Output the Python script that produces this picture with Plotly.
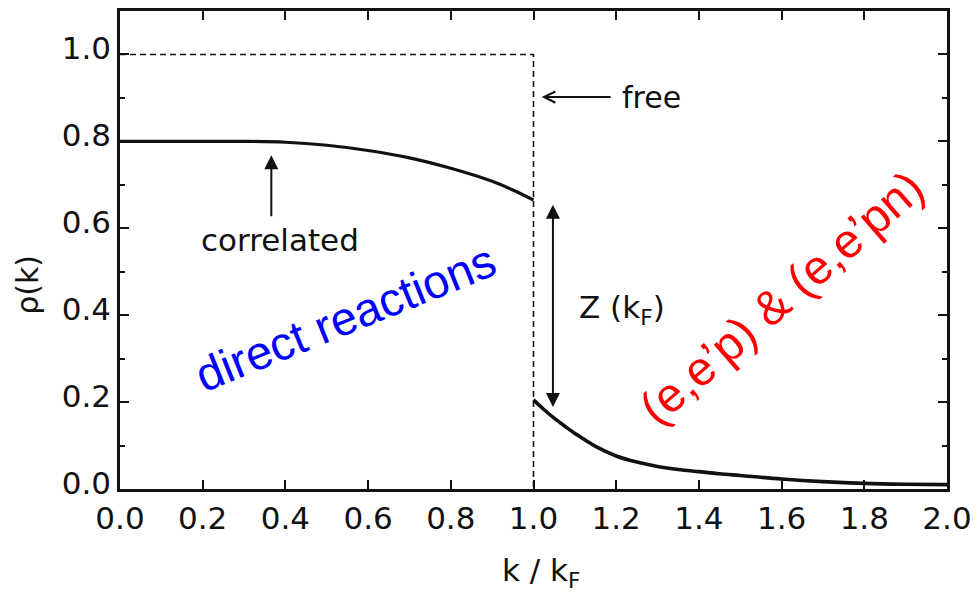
import plotly.graph_objects as go

# ---- data ----
free_k = [0.0, 1.0, 1.0]
free_rho = [1.0, 1.0, 0.0]

corr_in_k = [0.0, 0.1, 0.2, 0.3, 0.4, 0.5, 0.6, 0.7, 0.8, 0.9, 0.95, 1.0]
corr_in_rho = [0.80, 0.80, 0.80, 0.80, 0.798, 0.791, 0.779, 0.762, 0.738, 0.708, 0.688, 0.665]

corr_out_k = [1.0, 1.025, 1.05, 1.075, 1.1, 1.15, 1.2, 1.25, 1.3, 1.35, 1.4, 1.45,
              1.5, 1.6, 1.7, 1.8, 1.9, 2.0]
corr_out_rho = [0.205, 0.183, 0.163, 0.145, 0.128, 0.098, 0.076, 0.062, 0.052, 0.045,
                0.040, 0.035, 0.031, 0.023, 0.017, 0.013, 0.011, 0.010]

x_ticks = [0.0, 0.2, 0.4, 0.6, 0.8, 1.0, 1.2, 1.4, 1.6, 1.8, 2.0]
y_ticks = [0.0, 0.2, 0.4, 0.6, 0.8, 1.0]
y_minor = [0.1, 0.3, 0.5, 0.7, 0.9]

BLACK = "#111111"
FONT = "DejaVu Sans"

fig = go.Figure()
fig.add_trace(go.Scatter(x=free_k, y=free_rho, mode="lines",
                         line=dict(color=BLACK, width=1.6, dash="6px,4px"),
                         showlegend=False, hoverinfo="skip"))
fig.add_trace(go.Scatter(x=corr_in_k, y=corr_in_rho, mode="lines",
                         line=dict(color=BLACK, width=3.2, shape="spline"),
                         showlegend=False, hoverinfo="skip"))
fig.add_trace(go.Scatter(x=corr_out_k, y=corr_out_rho, mode="lines",
                         line=dict(color=BLACK, width=3.6, shape="spline"),
                         showlegend=False, hoverinfo="skip"))

ann = []
# free arrow
ann.append(dict(x=1.02, y=0.902, ax=1.19, ay=0.902, xref="x", yref="y",
                axref="x", ayref="y", text="", showarrow=True,
                arrowhead=5, arrowsize=1.1, arrowwidth=2, arrowcolor=BLACK))
ann.append(dict(x=1.21, y=0.902, xref="x", yref="y", text="free",
                showarrow=False, xanchor="left", yanchor="middle",
                font=dict(family=FONT, size=30, color=BLACK)))
# correlated arrow
ann.append(dict(x=0.366, y=0.768, ax=0.366, ay=0.624, xref="x", yref="y",
                axref="x", ayref="y", text="", showarrow=True,
                arrowhead=2, arrowsize=1.4, arrowwidth=2, arrowcolor=BLACK))
ann.append(dict(x=0.388, y=0.574, xref="x", yref="y", text="correlated",
                showarrow=False, xanchor="center", yanchor="middle",
                font=dict(family=FONT, size=31, color=BLACK)))
# Z(kF) double arrow
ann.append(dict(x=1.047, y=0.654, ax=1.047, ay=0.185, xref="x", yref="y",
                axref="x", ayref="y", text="", showarrow=True,
                arrowhead=2, startarrowhead=2, arrowside="end+start",
                arrowsize=1.4, startarrowsize=1.4, arrowwidth=2, arrowcolor=BLACK))
ann.append(dict(x=1.214, y=0.412, xref="x", yref="y", text="Z (k<sub>F</sub>)",
                showarrow=False, xanchor="center", yanchor="middle",
                font=dict(family=FONT, size=31, color=BLACK)))
# colored labels
ann.append(dict(x=0.546, y=0.394, xref="x", yref="y", text="direct reactions",
                showarrow=False, textangle=-22, xanchor="center", yanchor="middle",
                font=dict(family="Liberation Sans", size=47, color="#0000ff")))
ann.append(dict(x=1.60, y=0.44, xref="x", yref="y", text="(e,e\u2019p) &amp; (e,e\u2019pn)",
                showarrow=False, textangle=-41, xanchor="center", yanchor="middle",
                font=dict(family="Liberation Sans", size=48, color="#ff0000")))
# axis titles
ann.append(dict(x=-0.112, y=0.428, xref="paper", yref="paper", text="\u03c1(k)",
                showarrow=False, textangle=-90, xanchor="center", yanchor="middle",
                font=dict(family=FONT, size=30, color=BLACK)))
ann.append(dict(x=0.51, y=-0.174, xref="paper", yref="paper", text="k / k<sub>F</sub>",
                showarrow=False, xanchor="center", yanchor="middle",
                font=dict(family=FONT, size=31, color=BLACK)))

fig.update_layout(
    width=980, height=598,
    margin=dict(l=120, r=25, t=8, b=109),
    paper_bgcolor="white", plot_bgcolor="white",
    annotations=ann,
    xaxis=dict(range=[0, 2], tickvals=x_ticks, ticktext=[f"{v:.1f}" for v in x_ticks],
               ticks="inside", ticklen=9, tickwidth=2, tickcolor=BLACK,
               showline=True, linewidth=2.5, linecolor=BLACK, mirror="ticks",
               showgrid=False, zeroline=False,
               tickfont=dict(family=FONT, size=31, color=BLACK)),
    yaxis=dict(range=[0, 1.1], tickvals=y_ticks, ticktext=[f"{v:.1f}" for v in y_ticks],
               ticks="inside", ticklen=9, tickwidth=2, tickcolor=BLACK,
               minor=dict(tickvals=y_minor, ticks="inside",
                          ticklen=5, tickwidth=1.5, tickcolor=BLACK),
               showline=True, linewidth=2.5, linecolor=BLACK, mirror="ticks",
               showgrid=False, zeroline=False, ticklabelshift=-6,
               tickfont=dict(family=FONT, size=31, color=BLACK)),
)

fig.write_html("out.html")
